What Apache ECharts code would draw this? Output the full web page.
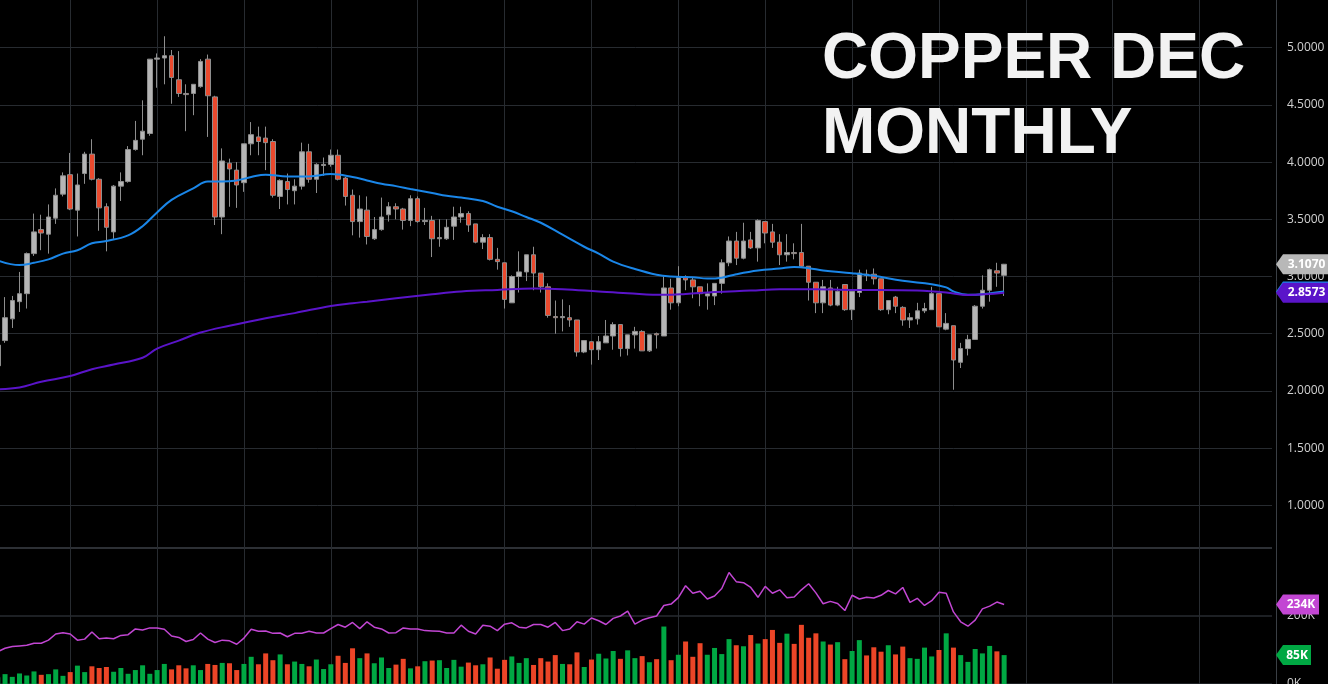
<!DOCTYPE html>
<html>
<head>
<meta charset="utf-8">
<title>Copper Dec Monthly</title>
<script src="https://cdn.jsdelivr.net/npm/echarts@6/dist/echarts.min.js"></script>
<style>
  html, body { margin: 0; padding: 0; background: #000; }
  #chart { width: 1328px; height: 684px; }
</style>
</head>
<body>
<div id="chart"></div>
<script>
// monthly bars, Mar 2009 .. Oct 2020
var opens = [2.22,2.44,2.63,2.78,2.85,3.20,3.41,3.37,3.51,3.72,
  3.89,3.58,3.90,4.07,3.85,3.61,3.39,3.79,3.83,4.11,
  4.20,4.25,4.90,4.91,4.93,4.72,4.60,4.60,4.66,4.90,
  4.57,3.52,3.99,3.93,3.82,4.16,4.22,4.21,4.18,3.70,
  3.83,3.75,3.79,4.09,3.85,3.97,3.98,4.06,3.86,3.71,
  3.48,3.58,3.33,3.41,3.54,3.61,3.59,3.49,3.68,3.48,
  3.49,3.33,3.33,3.44,3.52,3.55,3.46,3.30,3.34,3.15,
  3.12,2.77,3.00,3.04,3.19,3.03,2.91,2.65,2.64,2.64,
  2.62,2.34,2.43,2.36,2.42,2.48,2.58,2.37,2.49,2.52,
  2.35,2.50,2.48,2.90,2.77,3.00,2.97,2.91,2.83,2.83,
  2.94,3.12,3.31,3.16,3.32,3.25,3.48,3.39,3.30,3.19,
  3.21,3.21,3.09,2.95,2.77,2.90,2.75,2.93,2.71,2.86,
  3.02,3.02,2.98,2.71,2.82,2.73,2.62,2.63,2.70,2.71,
  2.85,2.54,2.57,2.25,2.37,2.45,2.74,2.88,3.05,3.01];
var highs = [2.45,2.82,2.83,3.04,3.21,3.55,3.54,3.63,3.77,3.91,
  4.08,3.90,4.09,4.20,3.86,3.64,3.80,3.91,4.14,4.36,
  4.54,4.90,4.95,5.10,4.98,4.97,4.68,4.68,4.90,4.94,
  4.58,4.12,4.03,4.00,4.16,4.35,4.31,4.31,4.20,3.85,
  3.90,3.85,4.17,4.16,3.99,4.04,4.11,4.11,3.87,3.76,
  3.71,3.70,3.52,3.69,3.65,3.64,3.60,3.71,3.70,3.60,
  3.53,3.50,3.50,3.61,3.61,3.57,3.46,3.37,3.37,3.25,
  3.12,3.01,3.22,3.19,3.26,3.03,2.94,2.79,2.80,2.75,
  2.62,2.44,2.43,2.48,2.62,2.60,2.58,2.49,2.56,2.53,
  2.49,2.51,3.00,2.98,3.09,3.01,2.99,2.91,2.94,2.94,
  3.15,3.35,3.39,3.47,3.39,3.50,3.48,3.46,3.37,3.37,
  3.29,3.46,3.09,2.95,2.97,2.97,2.91,2.93,2.88,3.06,
  3.06,3.07,2.98,2.79,2.83,2.74,2.68,2.77,2.77,2.91,
  2.85,2.68,2.57,2.42,2.49,2.75,3.01,3.07,3.12,3.11];
var lows = [2.14,2.42,2.55,2.69,2.72,3.18,3.23,3.20,3.46,3.70,
  3.58,3.35,3.81,3.84,3.40,3.22,3.33,3.66,3.82,4.10,
  4.06,4.23,4.65,4.68,4.51,4.57,4.27,4.41,4.65,4.22,
  3.45,3.37,3.61,3.60,3.74,4.06,4.06,3.93,3.69,3.59,
  3.63,3.63,3.76,3.82,3.73,3.88,3.96,3.84,3.62,3.36,
  3.34,3.28,3.32,3.40,3.48,3.50,3.41,3.44,3.47,3.45,
  3.17,3.26,3.32,3.32,3.47,3.39,3.29,3.24,3.14,3.06,
  2.72,2.77,2.86,2.96,2.88,2.86,2.64,2.50,2.52,2.56,
  2.30,2.33,2.23,2.27,2.42,2.36,2.30,2.31,2.37,2.35,
  2.34,2.37,2.48,2.71,2.74,2.88,2.81,2.74,2.71,2.75,
  2.85,3.09,3.10,3.15,3.24,3.13,3.29,3.25,3.10,3.13,
  3.15,3.08,2.79,2.68,2.68,2.74,2.74,2.70,2.62,2.82,
  2.96,2.93,2.70,2.67,2.68,2.57,2.55,2.58,2.68,2.71,
  2.56,2.53,2.01,2.20,2.31,2.45,2.72,2.78,2.91,2.83];
var closes = [2.40,2.64,2.79,2.85,3.20,3.39,3.38,3.52,3.71,3.88,
  3.59,3.80,4.07,3.85,3.60,3.43,3.79,3.83,4.11,4.19,
  4.27,4.90,4.91,4.93,4.74,4.60,4.59,4.68,4.88,4.58,
  3.52,4.01,3.94,3.80,4.16,4.24,4.18,4.17,3.71,3.84,
  3.76,3.79,4.09,3.85,3.98,3.98,4.06,3.85,3.70,3.48,
  3.59,3.35,3.41,3.52,3.61,3.59,3.49,3.68,3.48,3.49,
  3.33,3.34,3.43,3.52,3.55,3.45,3.30,3.34,3.15,3.13,
  2.80,3.00,3.04,3.19,3.03,2.91,2.66,2.64,2.65,2.62,
  2.34,2.44,2.36,2.43,2.48,2.58,2.37,2.49,2.52,2.35,
  2.49,2.49,2.90,2.77,2.99,2.97,2.91,2.85,2.85,2.94,
  3.12,3.31,3.16,3.31,3.25,3.49,3.38,3.30,3.19,3.21,
  3.20,3.09,2.95,2.77,2.91,2.75,2.87,2.71,2.87,3.03,
  3.01,2.98,2.71,2.79,2.74,2.62,2.64,2.70,2.72,2.85,
  2.56,2.59,2.27,2.37,2.45,2.74,2.88,3.06,3.03,3.107];
// volume and open interest, thousands of contracts
var volumes = [20,29,21,31,25,37,27,29,43,24,
  35,54,35,52,47,50,36,47,30,41,
  55,30,41,59,43,55,46,55,41,59,
  56,62,61,41,59,80,58,90,70,87,
  58,66,59,52,72,44,58,83,62,105,
  76,90,61,78,47,57,74,46,52,67,
  69,70,47,71,51,63,55,58,78,45,
  71,81,62,76,56,76,66,85,59,58,
  93,50,72,89,75,97,74,99,76,82,
  64,73,169,70,86,125,80,120,86,106,
  88,132,114,111,144,119,132,159,121,148,
  118,174,136,149,125,116,123,73,97,129,
  84,108,95,114,87,110,76,74,107,81,
  100,149,107,85,65,103,90,112,96,85];
var openInterest = [95,105,110,112,114,120,120,129,147,151,
  147,129,132,153,133,135,133,143,145,162,
  159,165,165,161,141,137,125,131,150,132,
  122,129,127,117,135,161,155,156,149,150,
  139,149,149,155,150,150,163,175,167,181,
  163,183,167,162,150,151,165,162,162,157,
  156,155,150,150,173,155,147,173,170,157,
  176,180,167,165,175,175,167,181,157,162,
  183,176,194,186,175,193,200,214,176,188,
  195,200,231,235,254,289,267,273,250,259,
  281,328,301,298,284,255,287,267,277,254,
  256,277,295,268,236,243,237,216,261,250,
  255,253,261,275,265,284,240,252,231,245,
  270,267,212,183,170,188,221,229,241,234];
// moving averages read at sampled bars: [bar index, value]
var maFast = [[0,3.14],[3,3.10],[5,3.12],[7,3.15],[9,3.20],[11,3.23],[13,3.29],[15,3.31],
  [18,3.36],[20,3.44],[22,3.56],[24,3.67],[27,3.77],[29,3.83],[31,3.83],[33,3.84],
  [35,3.87],[37,3.89],[40,3.875],[43,3.875],[46,3.895],[49,3.87],[51,3.84],[53,3.81],
  [55,3.79],[57,3.765],[60,3.73],[62,3.705],[64,3.69],[67,3.66],[69,3.61],[71,3.57],
  [73,3.52],[75,3.47],[78,3.365],[81,3.26],[83,3.20],[85,3.13],[88,3.065],[91,3.015],
  [93,3.0],[96,2.994],[98,2.982],[100,2.99],[102,3.02],[105,3.053],[108,3.07],[110,3.082],
  [112,3.073],[114,3.053],[118,3.029],[121,3.006],[125,2.962],[129,2.933],[131,2.905],
  [132,2.87],[134,2.84],[136,2.845],[139,2.868]];
var maSlow = [[0,2.015],[3,2.03],[6,2.08],[10,2.13],[13,2.19],[16,2.23],[20,2.29],[22,2.37],
  [25,2.44],[28,2.51],[32,2.57],[37,2.636],[41,2.68],[46,2.743],[49,2.767],[51,2.78],
  [55,2.81],[60,2.845],[64,2.869],[69,2.883],[74,2.895],[78,2.889],[83,2.869],[87,2.854],
  [92,2.84],[95,2.848],[99,2.865],[104,2.877],[108,2.889],[113,2.889],[118,2.883],
  [122,2.883],[127,2.877],[131,2.86],[134,2.839],[139,2.8573]];
var lastPrice = 3.1070, lastSlow = 2.8573, lastFast = 2.868;

// month categories, with empty months to the right of the last bar
var months = [];
for (var k = 0; k < 177; k++) {
  var m = 2 + k;
  months.push((2009 + Math.floor(m / 12)) + '-' + ('0' + (m % 12 + 1)).slice(-2));
}
var candles = opens.map(function (o, i) { return [o, closes[i], lows[i], highs[i]]; });

var gridColor = '#272b30';
var font = '"Open Sans", "DejaVu Sans", sans-serif';
var titleStyle = {
  color: '#f2f2f2',
  fontFamily: '"Liberation Sans", Arial, sans-serif',
  fontWeight: 'bold',
  fontSize: 64,
  lineHeight: 74
};

var chart = echarts.init(document.getElementById('chart'));
var xBase = {
  type: 'category',
  data: months,
  boundaryGap: false,
  axisLine: { show: false },
  axisTick: { show: false },
  axisLabel: { show: false },
  splitLine: {
    show: true,
    interval: function (idx, val) { return val.slice(5) === '01'; },
    lineStyle: { color: gridColor, width: 1 }
  }
};
var option = {
  backgroundColor: '#000',
  animation: false,
  title: [
    { text: 'COPPER DEC', left: 822, top: 23, padding: 0, textStyle: titleStyle },
    { text: 'MONTHLY', left: 822, top: 98, padding: 0, textStyle: titleStyle }
  ],
  grid: [
    { left: -2.2, right: 56, top: 0, bottom: 121.5, outerBoundsMode: 'none', containLabel: false },
    { left: -2.2, right: 56, top: 548, bottom: 0, outerBoundsMode: 'none', containLabel: false }
  ],
  xAxis: [
    Object.assign({ gridIndex: 0 }, xBase),
    Object.assign({ gridIndex: 1 }, xBase)
  ],
  yAxis: [
    {
      gridIndex: 0, type: 'value', position: 'right', offset: 4,
      min: 0.5, max: 5.417, interval: 0.5,
      axisLine: { show: true, lineStyle: { color: '#3a3f45' } },
      axisTick: { show: false },
      axisLabel: {
        color: '#d0d0d0', fontFamily: font, fontSize: 12, margin: 11,
        showMinLabel: false, showMaxLabel: false,
        formatter: function (v) { return v.toFixed(4); }
      },
      splitLine: { show: true, showMinLine: false, showMaxLine: false, lineStyle: { color: gridColor } }
    },
    {
      gridIndex: 1, type: 'value', position: 'right', offset: 4,
      min: 0, max: 400, interval: 200,
      axisLine: { show: true, lineStyle: { color: '#3a3f45' } },
      axisTick: { show: false },
      axisLabel: {
        color: '#d0d0d0', fontFamily: font, fontSize: 12, margin: 11,
        showMaxLabel: false,
        formatter: function (v) { return v + 'K'; }
      },
      splitLine: { show: true, lineStyle: { color: [gridColor, gridColor, '#3c4147'], width: 1.5 } }
    }
  ],
  series: [
    {
      name: 'Copper', type: 'candlestick', xAxisIndex: 0, yAxisIndex: 0,
      data: candles, barWidth: 5,
      itemStyle: {
        color: '#b5b5b5', color0: '#ea4a2e',
        borderColor: '#8e8e8e', borderColor0: '#8e8e8e', borderWidth: 1
      },
      markPoint: {
        symbol: 'none',
        data: [{ coord: [23, 5.14], value: '^' }],
        label: { show: true, formatter: '^', color: '#aaaaaa', fontSize: 12, fontFamily: font }
      },
      z: 3
    },
    {
      name: 'MA fast', type: 'line', xAxisIndex: 0, yAxisIndex: 0,
      data: maFast, showSymbol: false, smooth: 0.4,
      lineStyle: { color: '#1a86e8', width: 2 }, z: 4
    },
    {
      name: 'MA slow', type: 'line', xAxisIndex: 0, yAxisIndex: 0,
      data: maSlow, showSymbol: false, smooth: 0.4,
      lineStyle: { color: '#5a14c9', width: 2 }, z: 4
    },
    {
      name: 'Volume', type: 'bar', xAxisIndex: 1, yAxisIndex: 1,
      data: volumes, barWidth: 5,
      itemStyle: {
        color: function (p) { return closes[p.dataIndex] >= opens[p.dataIndex] ? '#00a843' : '#ec4527'; }
      }
    },
    {
      name: 'Open interest', type: 'line', xAxisIndex: 1, yAxisIndex: 1,
      data: openInterest, showSymbol: false,
      lineStyle: { color: '#c246d3', width: 1.5 }, z: 4
    }
  ]
};
chart.setOption(option);

// value tags on the right axis
var axisX = chart.convertToPixel({ xAxisIndex: 0 }, months.length - 1) + 4;
function tag(yAxisIndex, value, text, color, w) {
  var y = chart.convertToPixel({ yAxisIndex: yAxisIndex }, value);
  return {
    type: 'group', z: 100,
    children: [
      {
        type: 'polygon', z: 100,
        shape: { points: [[axisX, y], [axisX + 7, y - 10], [axisX + w, y - 10], [axisX + w, y + 10], [axisX + 7, y + 10]] },
        style: { fill: color }
      },
      {
        type: 'text', z: 101,
        x: axisX + 7 + (w - 7) / 2, y: y,
        style: {
          text: text, fill: '#ffffff', font: 'bold 12px ' + font,
          textAlign: 'center', textVerticalAlign: 'middle'
        }
      }
    ]
  };
}
chart.setOption({
  graphic: [
    tag(0, lastPrice, lastPrice.toFixed(4), '#b8b8b8', 54),
    tag(0, lastFast, '', '#1a86e8', 54),
    tag(0, lastSlow, lastSlow.toFixed(4), '#5a14c9', 54),
    tag(1, openInterest[openInterest.length - 1], openInterest[openInterest.length - 1] + 'K', '#c246d3', 43),
    tag(1, volumes[volumes.length - 1], volumes[volumes.length - 1] + 'K', '#00a843', 35)
  ]
});
</script>
</body>
</html>
